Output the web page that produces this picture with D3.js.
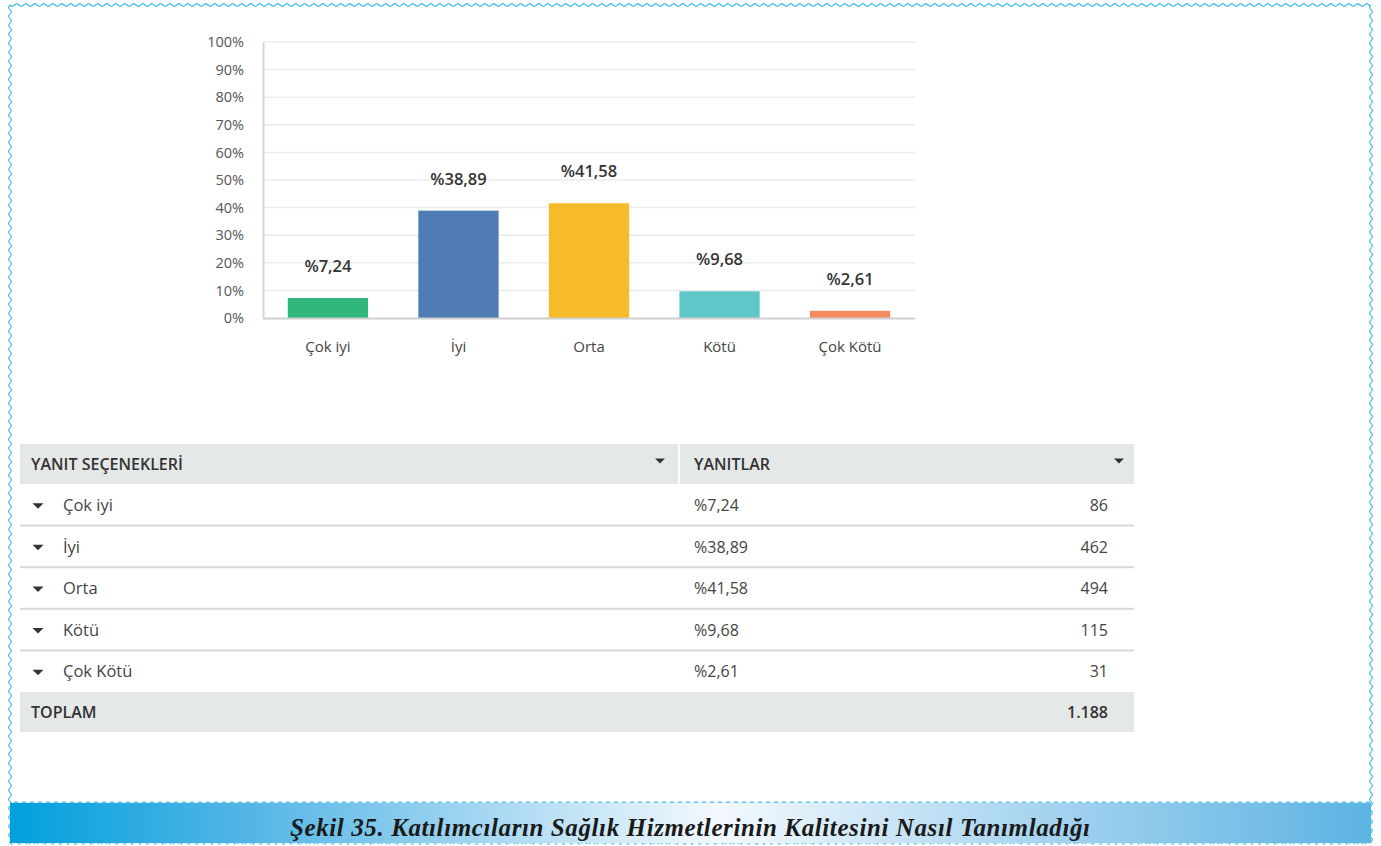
<!DOCTYPE html>
<html lang="tr">
<head>
<meta charset="utf-8">
<script src="https://cdn.jsdelivr.net/npm/d3@7"></script>
<style>
  html, body { margin: 0; padding: 0; background: #fff; }
  svg { display: block; }
</style>
</head>
<body>
<svg id="fig" width="1381" height="846"></svg>
<script>
// Response categories and their shares / counts
const categories = ["Çok iyi", "İyi", "Orta", "Kötü", "Çok Kötü"];
const percents = [7.24, 38.89, 41.58, 9.68, 2.61];
const counts = [86, 462, 494, 115, 31];
const totalLabel = "1.188";
const barColors = ["#30b67b", "#4f7cb5", "#f7bb29", "#5ec8c9", "#f68c5e"];
const yTicks = [0, 10, 20, 30, 40, 50, 60, 70, 80, 90, 100];
const headers = ["YANIT SEÇENEKLERİ", "YANITLAR"];
const caption = "Şekil 35. Katılımcıların Sağlık Hizmetlerinin Kalitesini Nasıl Tanımladığı";

const svg = d3.select("#fig");
const trFmt = v => "%" + v.toFixed(2).replace(".", ",");
const sans = "'Open Sans', Roboto, 'Liberation Sans', sans-serif";

// ---- wavy frame ----
const wavePts = (x0, y0, x1, y1, amp, period) => {
  const len = Math.hypot(x1 - x0, y1 - y0);
  const ux = (x1 - x0) / len, uy = (y1 - y0) / len;
  const pts = [];
  for (let s = 0; s <= len; s += 0.75) {
    const off = amp * Math.sin(2 * Math.PI * s / period);
    pts.push([x0 + ux * s - uy * off, y0 + uy * s + ux * off]);
  }
  return d3.line()(pts);
};
const frameColor = "#2ab4e6";
const frame = svg.append("g").attr("fill", "none").attr("stroke", frameColor).attr("stroke-width", 1.1);
frame.append("path").attr("d", wavePts(10, 5, 1371, 5, 1.3, 9));
frame.append("path").attr("d", wavePts(10, 5, 10, 843, 1.3, 9));
frame.append("path").attr("d", wavePts(1371, 5, 1371, 843, 1.3, 9));

// ---- caption band ----
const defs = svg.append("defs");
const grad = defs.append("linearGradient").attr("id", "band").attr("x1", 0).attr("x2", 1).attr("y1", 0).attr("y2", 0);
grad.append("stop").attr("offset", "0%").attr("stop-color", "#00a0dd");
grad.append("stop").attr("offset", "18%").attr("stop-color", "#56b6e6");
grad.append("stop").attr("offset", "52%").attr("stop-color", "#f4f9fd");
grad.append("stop").attr("offset", "75%").attr("stop-color", "#a9d5f0");
grad.append("stop").attr("offset", "100%").attr("stop-color", "#5cb3e2");
svg.append("rect").attr("x", 10).attr("y", 803).attr("width", 1361).attr("height", 40).attr("fill", "url(#band)");
frame.append("path").attr("d", wavePts(10, 803, 1371, 803, 1.2, 8)).attr("stroke", "#3bbbe8");
frame.append("path").attr("d", wavePts(10, 843, 1371, 843, 1.2, 8)).attr("stroke", "#3bbbe8").attr("stroke-dasharray", "3 1.5");
svg.append("text")
  .attr("x", 690).attr("y", 836)
  .attr("text-anchor", "middle")
  .attr("font-family", "'Liberation Serif', 'DejaVu Serif', serif")
  .attr("font-weight", "bold").attr("font-style", "italic")
  .attr("font-size", 25).attr("fill", "#1a1a1a")
  .attr("textLength", 800).attr("lengthAdjust", "spacing")
  .text(caption);

// ---- bar chart ----
const plot = { left: 263, right: 915, top: 42, bottom: 318 };
const x = d3.scaleBand().domain(categories).range([plot.left, plot.right]).paddingInner(0.385).paddingOuter(0.19);
const y = d3.scaleLinear().domain([0, 100]).range([plot.bottom, plot.top]);

const chart = svg.append("g").attr("font-family", sans);

// horizontal gridlines
chart.append("g").selectAll("line").data(yTicks.filter(t => t > 0)).join("line")
  .attr("x1", plot.left).attr("x2", plot.right)
  .attr("y1", d => y(d)).attr("y2", d => y(d))
  .attr("stroke", "#ebebeb").attr("stroke-width", 1.5);

// y axis
const yAxis = chart.append("g").attr("transform", `translate(${plot.left},0)`)
  .call(d3.axisLeft(y).tickValues(yTicks).tickFormat(d => d + "%").tickSize(0).tickPadding(19));
yAxis.select(".domain").attr("stroke", "#d6d6d6").attr("stroke-width", 2);
yAxis.selectAll("text").attr("font-size", 14.5).attr("fill", "#555").attr("font-family", sans);

// bars
chart.append("g").selectAll("rect").data(categories).join("rect")
  .attr("x", d => x(d)).attr("width", x.bandwidth())
  .attr("y", (d, i) => y(percents[i]))
  .attr("height", (d, i) => y(0) - y(percents[i]))
  .attr("fill", (d, i) => barColors[i]);

// baseline
chart.append("line").attr("x1", plot.left).attr("x2", plot.right)
  .attr("y1", plot.bottom + 0.5).attr("y2", plot.bottom + 0.5)
  .attr("stroke", "#cfcfcf").attr("stroke-width", 2);

// value labels
chart.append("g").selectAll("text").data(categories).join("text")
  .attr("x", d => x(d) + x.bandwidth() / 2)
  .attr("y", (d, i) => y(percents[i]) - 26)
  .attr("text-anchor", "middle")
  .attr("font-size", 16.5).attr("font-weight", 600).attr("fill", "#333")
  .text((d, i) => trFmt(percents[i]));

// category labels
const xAxis = chart.append("g").attr("transform", `translate(0,${plot.bottom})`)
  .call(d3.axisBottom(x).tickSize(0).tickPadding(23));
xAxis.select(".domain").remove();
xAxis.selectAll("text").attr("font-size", 15).attr("fill", "#444").attr("font-family", sans);

// ---- table ----
const tbl = { left: 20, right: 1134, split: 678, headTop: 444, headH: 40, rowH: 41.6 };
const table = svg.append("g").attr("font-family", sans);
const headBg = "#e4e8e7";
const lineCol = "#d5d9d8";

table.append("rect").attr("x", tbl.left).attr("y", tbl.headTop).attr("width", tbl.split - tbl.left).attr("height", tbl.headH).attr("fill", headBg);
table.append("rect").attr("x", tbl.split + 2).attr("y", tbl.headTop).attr("width", tbl.right - tbl.split - 2).attr("height", tbl.headH).attr("fill", headBg);
table.selectAll("text.head").data(headers).join("text")
  .attr("class", "head")
  .attr("x", (d, i) => i === 0 ? 31 : 694)
  .attr("y", tbl.headTop + 26)
  .attr("font-size", 16).attr("font-weight", 600).attr("fill", "#333")
  .text(d => d);

const tri = (cx, cy, w) => `M${cx - w / 2},${cy - w / 4}L${cx + w / 2},${cy - w / 4}L${cx},${cy + w / 4}Z`;
[660, 1119].forEach(cx => table.append("path").attr("d", tri(cx, tbl.headTop + 17, 10)).attr("fill", "#333"));

const rowTop = i => tbl.headTop + tbl.headH + i * tbl.rowH;
const rows = table.append("g").selectAll("g").data(categories).join("g")
  .attr("transform", (d, i) => `translate(0,${rowTop(i)})`);
rows.filter((d, i) => i < categories.length - 1).append("line")
  .attr("x1", tbl.left).attr("x2", tbl.right)
  .attr("y1", tbl.rowH).attr("y2", tbl.rowH)
  .attr("stroke", lineCol).attr("stroke-width", 2);
rows.append("path").attr("d", tri(38, 22, 11)).attr("fill", "#333");
rows.append("text").attr("x", 63).attr("y", 27).attr("font-size", 16.5).attr("fill", "#444").text(d => d);
rows.append("text").attr("x", 694).attr("y", 27).attr("font-size", 16).attr("fill", "#444").text((d, i) => trFmt(percents[i]));
rows.append("text").attr("x", 1108).attr("y", 27).attr("text-anchor", "end").attr("font-size", 16).attr("fill", "#444").text((d, i) => counts[i]);

const totTop = rowTop(categories.length);
table.append("rect").attr("x", tbl.left).attr("y", totTop).attr("width", tbl.right - tbl.left).attr("height", 40).attr("fill", headBg);
table.append("text").attr("x", 31).attr("y", totTop + 26).attr("font-size", 16).attr("font-weight", 600).attr("fill", "#333").text("TOPLAM");
table.append("text").attr("x", 1108).attr("y", totTop + 26).attr("text-anchor", "end").attr("font-size", 16).attr("font-weight", 600).attr("fill", "#333").text(totalLabel);
</script>
</body>
</html>
